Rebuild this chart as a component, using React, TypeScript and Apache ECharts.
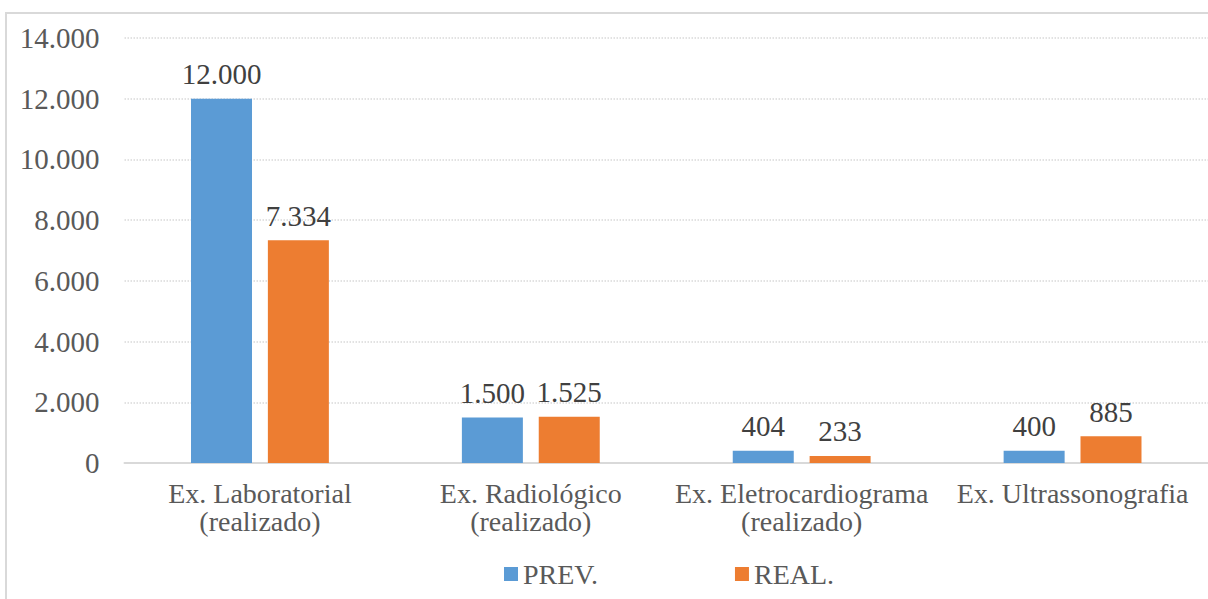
import React, { useEffect, useRef } from "react";
import * as echarts from "echarts";

const categories = [
  "Ex. Laboratorial\n(realizado)",
  "Ex. Radiológico\n(realizado)",
  "Ex. Eletrocardiograma\n(realizado)",
  "Ex. Ultrassonografia",
];
const seriesNames = ["PREV.", "REAL."];
const prevValues = [12000, 1500, 404, 400];
const realValues = [7334, 1525, 233, 885];
const colors = ["#5B9BD5", "#ED7D31"];

const FONT = "Liberation Serif";

const fmt = (v: number) =>
  String(Math.round(v)).replace(/\B(?=(\d{3})+(?!\d))/g, ".");

export default function App() {
  const ref = useRef<HTMLDivElement>(null);
  useEffect(() => {
    if (!ref.current) return;
    const chart = echarts.init(ref.current, null, { renderer: "svg" });
    const labelStyle = {
      show: true,
      position: "top" as const,
      distance: 10,
      fontFamily: FONT,
      fontSize: 29,
      color: "#404040",
      formatter: (p: any) => fmt(p.value),
    };
    chart.setOption({
      animation: false,
      backgroundColor: "#ffffff",
      textStyle: { fontFamily: FONT },
      graphic: [
        {
          type: "rect",
          shape: { x: 6, y: 13, width: 1400, height: 800 },
          style: { fill: "none", stroke: "#d9d9d9", lineWidth: 2 },
          silent: true,
          z: -1,
        },
      ],
      grid: { left: 124.5, right: 0, top: 38, bottom: 136, containLabel: false },
      legend: {
        data: seriesNames,
        left: 499,
        top: 555,
        itemWidth: 14,
        itemHeight: 14,
        itemGap: 137,
        icon: "rect",
        textStyle: { fontFamily: FONT, fontSize: 28, color: "#595959" },
      },
      xAxis: {
        type: "category",
        data: categories,
        axisLine: { show: true, lineStyle: { color: "#d9d9d9", width: 2 } },
        axisTick: { show: false },
        axisLabel: {
          interval: 0,
          margin: 16,
          fontFamily: FONT,
          fontSize: 28,
          lineHeight: 28,
          color: "#595959",
        },
      },
      yAxis: {
        type: "value",
        min: 0,
        max: 14000,
        interval: 2000,
        axisLine: { show: false },
        axisTick: { show: false },
        splitLine: { lineStyle: { color: "#d9d9d9", type: "dotted", width: 1.5 } },
        axisLabel: {
          margin: 25,
          fontFamily: FONT,
          fontSize: 29,
          color: "#595959",
          formatter: (v: number) => fmt(v),
        },
      },
      series: [
        {
          name: seriesNames[0],
          type: "bar",
          data: prevValues,
          barWidth: 61,
          barGap: "26%",
          itemStyle: { color: colors[0] },
          label: labelStyle,
        },
        {
          name: seriesNames[1],
          type: "bar",
          data: realValues,
          barWidth: 61,
          barGap: "26%",
          itemStyle: { color: colors[1] },
          label: labelStyle,
        },
      ],
    });
    return () => chart.dispose();
  }, []);
  return (
    <div
      ref={ref}
      style={{ position: "fixed", left: 0, top: 0, width: 1208, height: 599 }}
    />
  );
}
